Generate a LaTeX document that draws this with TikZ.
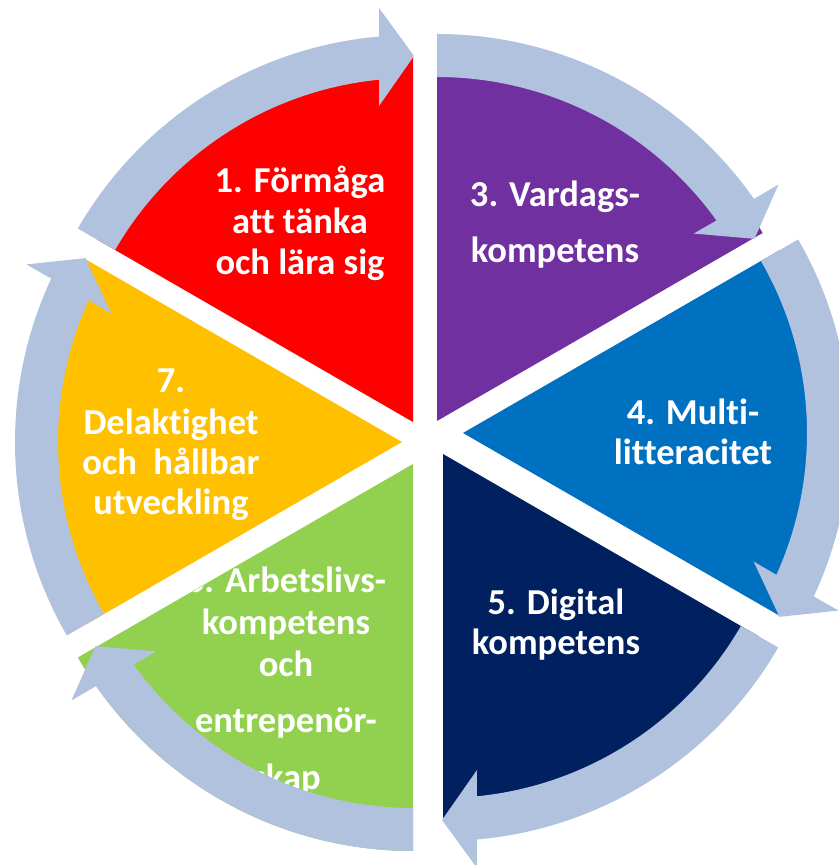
\documentclass[tikz,border=0pt]{standalone}
\usepackage{fontspec}
\setmainfont{Carlito}[Ligatures={NoCommon,NoContextual}]
\usetikzlibrary{calc}

\definecolor{wred}{HTML}{FF0000}
\definecolor{wpurple}{HTML}{7030A0}
\definecolor{wblue}{HTML}{0070C0}
\definecolor{wnavy}{HTML}{002060}
\definecolor{wgreen}{HTML}{92D050}
\definecolor{wyellow}{HTML}{FFC000}
\definecolor{ringblue}{HTML}{B0C2DE}

\tikzset{
  wedgefill/.style={fill=#1, draw=none},
  cyclearrow/.style={fill=ringblue, draw=none},
  seglabel/.style={text=white, font=\bfseries\fontsize{36.5}{41}\selectfont,
    inner sep=0pt, anchor=base},
}

% wedge: apex, start angle, end angle, radius, colour
\newcommand\pieslice[5]{%
  \fill[wedgefill=#5] #1 -- ++(#2:#4) arc[start angle=#2, end angle=#3, radius=#4] -- cycle;}
% clockwise ring arrow around an apex, tip at the given angle
\newcommand\ringarrowshape[2]{%
  \fill[cyclearrow, shift={#1}, rotate=#2]
    (60:387) arc[start angle=60, end angle=5.02, radius=387]
    -- (414,34) -- (366,-1) -- (316,34)
    -- (5.65:344) arc[start angle=5.65, end angle=60, radius=344] -- cycle;}

\begin{document}
\begin{tikzpicture}[x=1pt, y=1pt]
\clip (0,0) rectangle (839,865);
\fill[white] (0,0) rectangle (839,865);

% wedge apexes
\coordinate (aRed) at (413,443);
\coordinate (aPurple) at (437,444);
\coordinate (aBlue) at (463,432);
\coordinate (aNavy) at (443,411);
\coordinate (aGreen) at (413,401);
\coordinate (aYellow) at (402,423);

% pie slices
\pieslice{(aRed)}{90}{150}{365}{wred}
\pieslice{(aPurple)}{30}{90}{376}{wpurple}
\pieslice{(aBlue)}{-30}{30}{365}{wblue}
\pieslice{(aNavy)}{-90}{-30}{365}{wnavy}
\pieslice{(aGreen)}{210}{270}{387}{wgreen}
\pieslice{(aYellow)}{150}{210}{365}{wyellow}

% labels
\node[seglabel] (r1) at (300,672) {1. Förmåga};
\node[seglabel] (r2) at (300,631) {att tänka};
\node[seglabel] (r3) at (300,590) {och lära sig};

\node[seglabel] (p1) at (555,658) {3. Vardags-};
\node[seglabel] (p2) at (555,602) {kompetens};

\node[seglabel] (b1) at (693,440) {4. Multi-};
\node[seglabel] (b2) at (693,400) {litteracitet};

\node[seglabel] (n1) at (556,250) {5. Digital};
\node[seglabel] (n2) at (556,210) {kompetens};

\begin{scope}
\clip (aGreen) -- ++(210:387) arc[start angle=210, end angle=270, radius=387] -- cycle;
\node[seglabel] (g1) at (286,272) {6. Arbetslivs-};
\node[seglabel] (g2) at (286,230) {kompetens};
\node[seglabel] (g3) at (286,188) {och};
\node[seglabel] (g4) at (286,132) {entrepenör-};
\node[seglabel] (g5) at (286,75) {skap};
\end{scope}

\node[seglabel] (y1) at (171,472) {7.};
\node[seglabel] (y2) at (171,430) {Delaktighet};
\node[seglabel] (y3) at (171,390) {och\ \ hållbar};
\node[seglabel] (y4) at (171,350) {utveckling};

% ring of arrows
\ringarrowshape{(aRed)}{90}
\ringarrowshape{(aPurple)}{30}
\ringarrowshape{(aBlue)}{-30}
\ringarrowshape{(aNavy)}{-90}
\ringarrowshape{(aGreen)}{210}
\ringarrowshape{(aYellow)}{150}
\end{tikzpicture}
\end{document}
